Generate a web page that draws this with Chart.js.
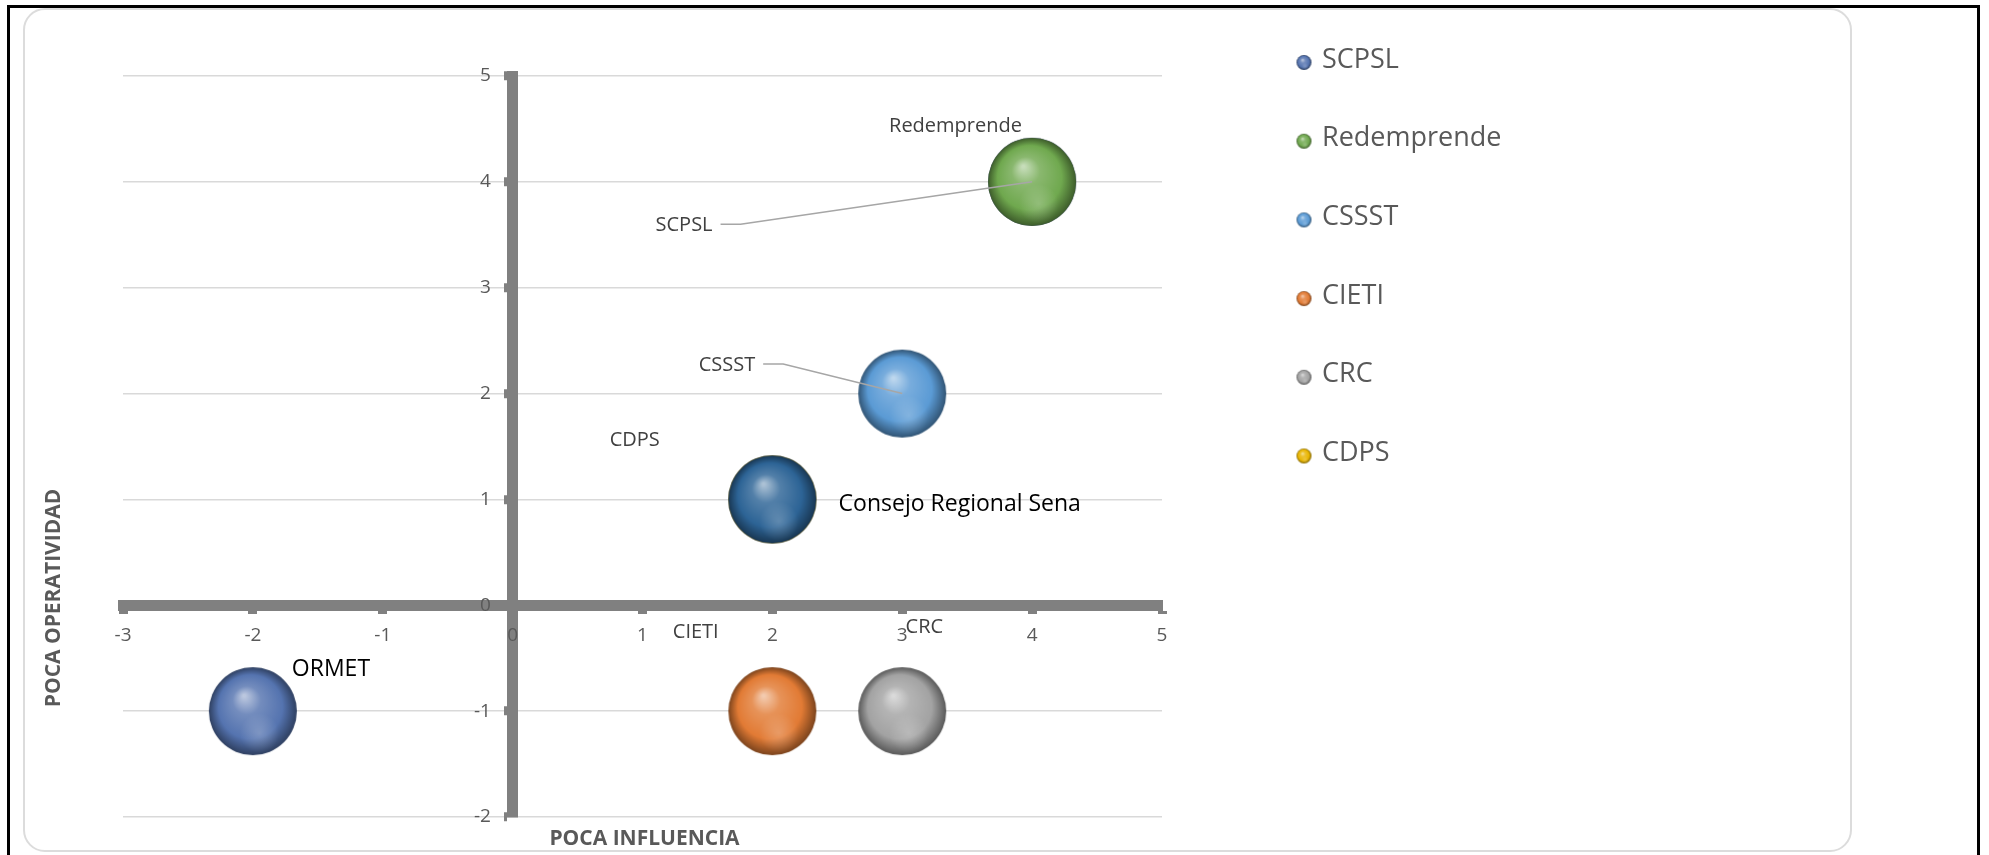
<!DOCTYPE html>
<html>
<head>
<meta charset="utf-8">
<script src="https://cdn.jsdelivr.net/npm/chart.js@4.4.1/dist/chart.umd.min.js"></script>
<style>
  html, body { margin:0; padding:0; background:#fff; overflow:hidden; }
  #frame { position:absolute; left:7px; top:5px; width:1967px; height:900px; border:3px solid #000; }
  #card { position:absolute; left:23px; top:8px; width:1825px; height:840px; border:2.5px solid #dcdcdc; border-radius:22px; }
  #main-chart { position:absolute; left:0; top:0; }
</style>
</head>
<body>
<div id="frame"></div>
<div id="card"></div>
<canvas id="main-chart" width="1989" height="855"></canvas>
<script>
// ====== Mapa de actores: influencia vs operatividad ======
const seriesNames  = ["SCPSL", "Redemprende", "CSSST", "CIETI", "CRC", "CDPS", "ORMET", "Consejo Regional Sena"];
const influencia   = [4, 4, 3, 2, 3, 2, -2, 2];
const operatividad = [4, 4, 2, -1, -1, 1, -1, 1];
const bubbleSize   = [1, 1, 1, 1, 1, 1, 1, 1];
const legendNames  = ["SCPSL", "Redemprende", "CSSST", "CIETI", "CRC", "CDPS"];
const xMin = -3, xMax = 5, yMin = -2, yMax = 5;
const xTitle = "POCA INFLUENCIA";
const yTitle = "POCA OPERATIVIDAD";

// styling
const FONT = '"Open Sans", sans-serif';
const seriesColors = ["#5574b0", "#70a94f", "#5b9bd5", "#e27b35", "#a3a3a3", "#e9b500", "#5574b0", "#2d6496"];
const drawOrder    = [1, 0, 0, 0, 0, 1, 0, 0]; // hidden ones sit underneath
const BUBBLE_R = 44;
// where each data label sits (in axis units) and how it looks
const labelPlacement = [
  { x: 1.32, y: 3.60, big: false, align: "center", leader: true },
  { x: 3.41, y: 4.54, big: false, align: "center" },
  { x: 1.65, y: 2.28, big: false, align: "center", leader: true },
  { x: 1.41, y: -0.245, big: false, align: "center" },
  { x: 3.17, y: -0.19, big: false, align: "center" },
  { x: 0.94, y: 1.57, big: false, align: "center" },
  { x: -1.70, y: -0.59, big: true, align: "left" },
  { x: 2.51, y: 0.97, big: true, align: "left" }
];

function shade(hex, t) {
  const n = parseInt(hex.slice(1), 16);
  let r = n >> 16, g = (n >> 8) & 255, b = n & 255;
  const target = t > 0 ? 255 : 0, a = Math.abs(t);
  r = Math.round(r + (target - r) * a);
  g = Math.round(g + (target - g) * a);
  b = Math.round(b + (target - b) * a);
  return `rgb(${r},${g},${b})`;
}

// little 3d ball, used as point style
function makeSphere(hex, r) {
  const c = document.createElement("canvas");
  const size = Math.ceil(r * 2) + 2;
  c.width = c.height = size;
  const g = c.getContext("2d");
  const cx = size / 2, cy = size / 2;
  const grad = g.createRadialGradient(cx - r * 0.2, cy - r * 0.35, r * 0.03, cx, cy, r);
  grad.addColorStop(0, shade(hex, 0.6));
  grad.addColorStop(0.3, shade(hex, 0.18));
  grad.addColorStop(0.72, hex);
  grad.addColorStop(1, shade(hex, -0.45));
  g.fillStyle = grad;
  g.beginPath(); g.arc(cx, cy, r, 0, Math.PI * 2); g.fill();
  const ref = g.createRadialGradient(cx + r * 0.15, cy + r * 0.5, 0, cx + r * 0.15, cy + r * 0.5, r * 0.45);
  ref.addColorStop(0, "rgba(255,255,255,0.22)");
  ref.addColorStop(1, "rgba(255,255,255,0)");
  g.fillStyle = ref;
  g.beginPath(); g.arc(cx, cy, r, 0, Math.PI * 2); g.fill();
  return c;
}

const datasets = seriesNames.map((name, i) => ({
  label: name,
  data: [{ x: influencia[i], y: operatividad[i], r: bubbleSize[i] * BUBBLE_R }],
  pointStyle: makeSphere(seriesColors[i], bubbleSize[i] * BUBBLE_R),
  backgroundColor: seriesColors[i],
  order: drawOrder[i]
}));

// labels + leader lines
const dataLabels = {
  id: "dataLabels",
  afterDatasetsDraw(chart) {
    const { ctx, scales: { x, y } } = chart;
    ctx.save();
    seriesNames.forEach((name, i) => {
      const p = labelPlacement[i];
      const px = x.getPixelForValue(p.x), py = y.getPixelForValue(p.y);
      const size = p.big ? 23 : 20;
      ctx.font = `${size}px ${FONT}`;
      ctx.fillStyle = p.big ? "#000000" : "#404040";
      ctx.textAlign = p.align;
      ctx.textBaseline = "alphabetic";
      ctx.fillText(name, px, py + 0.357 * size);
      if (p.leader) {
        const w = ctx.measureText(name).width;
        const sx = (p.align === "center" ? px + w / 2 : px + w) + 8;
        const pt = chart.getDatasetMeta(i).data[0];
        ctx.strokeStyle = "#a6a6a6";
        ctx.lineWidth = 1.5;
        ctx.beginPath();
        ctx.moveTo(sx, py);
        ctx.lineTo(sx + 20, py);
        ctx.lineTo(pt.x, pt.y);
        ctx.stroke();
      }
    });
    ctx.restore();
  }
};

// axis titles and the legend on the right
const legendSpheres = legendNames.map(n => makeSphere(seriesColors[seriesNames.indexOf(n)], 7.5));
const sideStuff = {
  id: "sideStuff",
  afterDraw(chart) {
    const { ctx, chartArea } = chart;
    ctx.save();
    ctx.fillStyle = "#595959";
    ctx.font = `bold 21px ${FONT}`;
    ctx.textAlign = "center";
    ctx.textBaseline = "alphabetic";
    ctx.fillText(xTitle, (chartArea.left + chartArea.right) / 2 + 2, 838 + 0.357 * 21);
    ctx.save();
    ctx.translate(53 + 0.357 * 21, 598);
    ctx.rotate(-Math.PI / 2);
    ctx.fillText(yTitle, 0, 0);
    ctx.restore();

    ctx.font = `27px ${FONT}`;
    ctx.textAlign = "left";
    legendNames.forEach((name, i) => {
      const yc = 58 + i * 78.7;
      const img = legendSpheres[i];
      ctx.drawImage(img, 1304 - img.width / 2, yc + 4.5 - img.height / 2);
      ctx.fillText(name, 1322, yc + 0.357 * 27);
    });
    ctx.restore();
  }
};

const tickFont = { family: FONT, size: 19 };
const chartCanvas = document.getElementById("main-chart").getContext("2d");
const mapChart = new Chart(chartCanvas, {
  type: "bubble",
  data: { datasets },
  options: {
    responsive: false,
    animation: false,
    // bubbles would otherwise force ~47px of padding on every side
    layout: { autoPadding: false, padding: { left: 123, top: 76, right: 1989 - 1162, bottom: 38 } },
    plugins: { legend: { display: false }, tooltip: { enabled: false } },
    scales: {
      x: {
        type: "linear", min: xMin, max: xMax, position: { y: 0 },
        ticks: { stepSize: 1, color: "#595959", font: { family: FONT, size: 19, lineHeight: 0.7 }, padding: 21, z: 1 },
        grid: { drawOnChartArea: false, drawTicks: true, tickLength: 3, tickWidth: 9, tickColor: "#808080" },
        border: { color: "#808080", width: 11 }
      },
      y: {
        type: "linear", min: yMin, max: yMax, position: { x: 0 },
        // centred axes get no label padding, so push the text off the line
        ticks: { stepSize: 1, color: "#595959", font: tickFont, z: 1, callback: (v) => v + "\u2007\u2007" },
        grid: {
          color: (c) => c.tick && c.tick.value === 0 ? "rgba(0,0,0,0)" : "#d9d9d9",
          lineWidth: 1.5, drawTicks: true, tickLength: 3, tickWidth: 9, tickColor: "#808080"
        },
        border: { color: "#808080", width: 11 }
      }
    }
  },
  plugins: [dataLabels, sideStuff]
});
</script>
</body>
</html>
